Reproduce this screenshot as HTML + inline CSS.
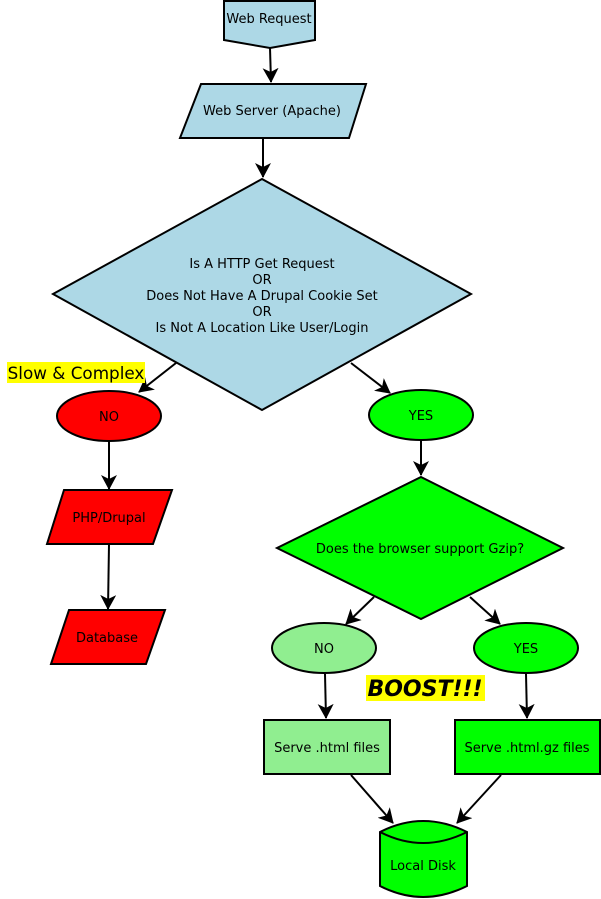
<!DOCTYPE html>
<html><head><style>
html,body{margin:0;padding:0;background:#fff;}
svg{display:block;font-family:"DejaVu Sans","Liberation Sans",sans-serif;}
</style></head><body>
<svg width="601" height="899" viewBox="0 0 601 899" xmlns="http://www.w3.org/2000/svg">
<defs>
<marker id="a" markerWidth="16" markerHeight="16" refX="14" refY="8" orient="auto" markerUnits="userSpaceOnUse">
<path d="M0,0 L15,8 L0,16 L4,8 Z" fill="#000"/>
</marker>
</defs>
<g stroke="#000" stroke-width="2">
<polygon points="224,1 315,1 315,40 270,48 224,40" fill="#add8e6"/>
<polygon points="201,84 366,84 349,138 180,138" fill="#add8e6"/>
<polygon points="262,179 471,294 262,410 53,294" fill="#add8e6"/>
<ellipse cx="109" cy="416" rx="52" ry="25" fill="#ff0000"/>
<ellipse cx="421" cy="415" rx="52" ry="25" fill="#00ff00"/>
<polygon points="64,490 172,490 153,544 47,544" fill="#ff0000"/>
<polygon points="69,610 165,610 146,664 51,664" fill="#ff0000"/>
<polygon points="421,477 563,548 421,619 277,548" fill="#00ff00"/>
<ellipse cx="324" cy="648" rx="52" ry="25" fill="#90ee90"/>
<ellipse cx="526" cy="648" rx="52" ry="25" fill="#00ff00"/>
<rect x="264" y="720" width="126" height="54" fill="#90ee90"/>
<rect x="455" y="720" width="145" height="54" fill="#00ff00"/>
<path d="M380,832 Q423,810 467,832 L467,886 Q423,908 380,886 Z" fill="#00ff00"/>
<path d="M380,832 Q423,854 467,832" fill="none"/>
</g>
<g stroke="#000" stroke-width="2" fill="none" marker-end="url(#a)">
<line x1="270" y1="48" x2="271" y2="82"/>
<line x1="263" y1="138" x2="263" y2="177"/>
<line x1="176" y1="363" x2="139" y2="392"/>
<line x1="351" y1="363" x2="390" y2="393"/>
<line x1="109" y1="441" x2="109" y2="489"/>
<line x1="109" y1="544" x2="108" y2="609"/>
<line x1="421" y1="440" x2="421" y2="475"/>
<line x1="374" y1="597" x2="346" y2="624"/>
<line x1="470" y1="597" x2="500" y2="624"/>
<line x1="325" y1="674" x2="326" y2="718"/>
<line x1="526" y1="674" x2="527" y2="718"/>
<line x1="351" y1="775" x2="393" y2="823"/>
<line x1="501" y1="775" x2="457" y2="823"/>
</g>
<rect x="7" y="362" width="138" height="21" fill="#ffff00"/>
<rect x="366" y="675" width="119" height="26" fill="#ffff00"/>
<g font-size="13" fill="#000" text-anchor="middle">
<text x="269" y="23">Web Request</text>
<text x="272" y="115">Web Server (Apache)</text>
<text x="262" y="268">Is A HTTP Get Request</text>
<text x="262" y="284">OR</text>
<text x="262" y="300">Does Not Have A Drupal Cookie Set</text>
<text x="262" y="316">OR</text>
<text x="262" y="332">Is Not A Location Like User/Login</text>
<text x="109" y="421">NO</text>
<text x="421" y="420">YES</text>
<text x="109" y="522">PHP/Drupal</text>
<text x="107" y="642">Database</text>
<text x="420" y="553">Does the browser support Gzip?</text>
<text x="324" y="653">NO</text>
<text x="526" y="653">YES</text>
<text x="327" y="752">Serve .html files</text>
<text x="527" y="752">Serve .html.gz files</text>
<text x="423" y="870">Local Disk</text>
</g>
<text x="76" y="379" font-size="16.8" text-anchor="middle" fill="#000">Slow &amp; Complex</text>
<text x="425" y="696" font-size="22" font-weight="bold" font-style="italic" text-anchor="middle" fill="#000">BOOST!!!</text>
</svg>
</body></html>
